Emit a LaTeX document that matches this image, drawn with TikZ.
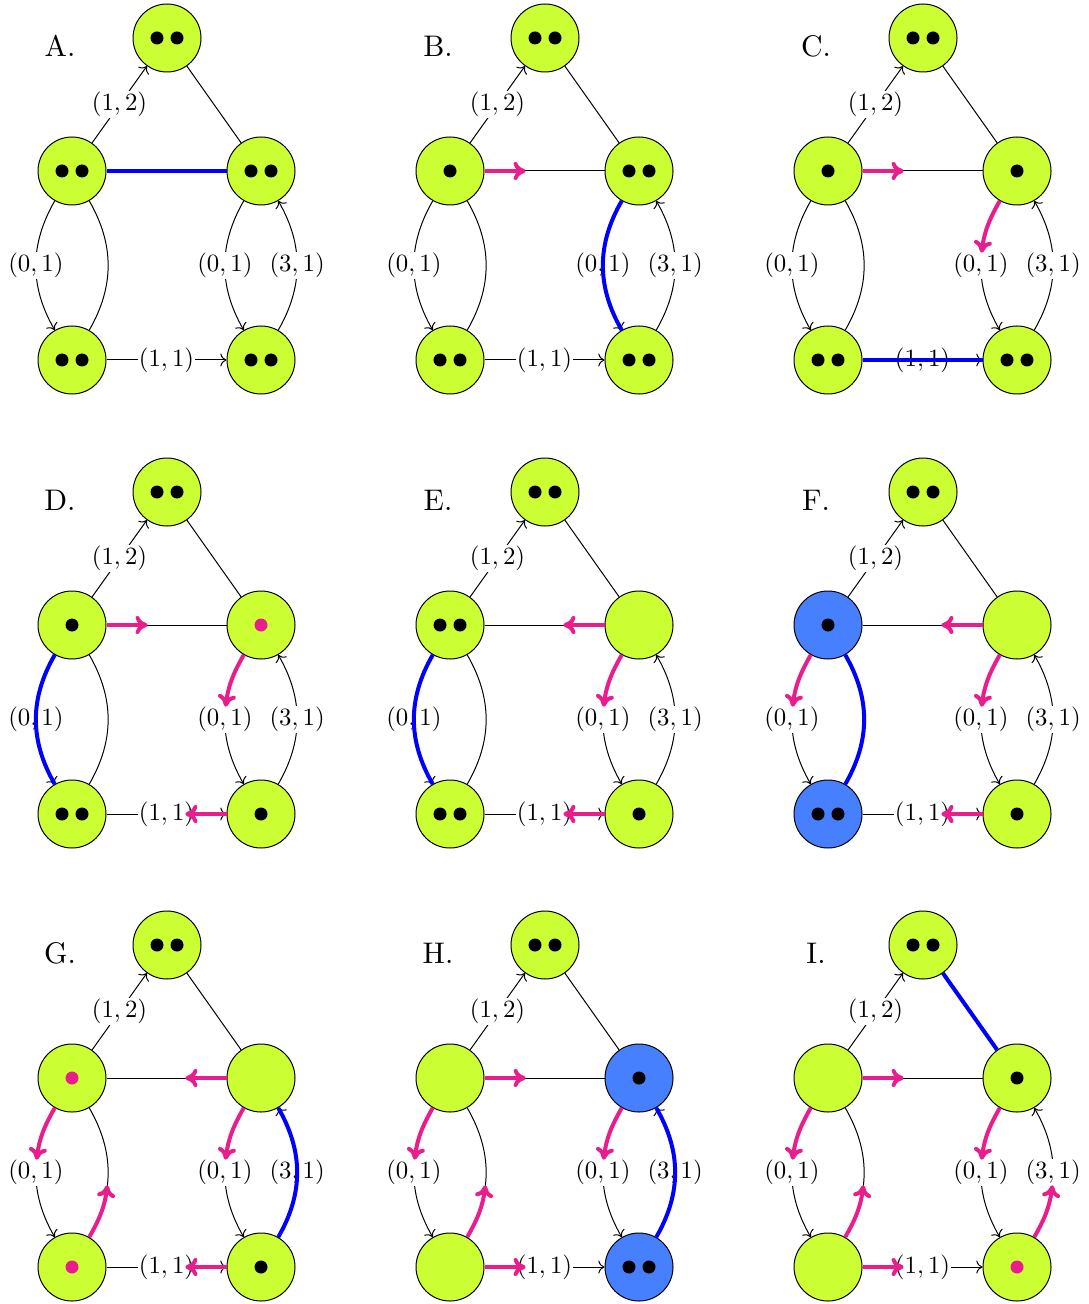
\documentclass[tikz,border=0pt]{standalone}
\usetikzlibrary{arrows.meta,calc}
\definecolor{limec}{RGB}{204,255,51}
\definecolor{hlblue}{RGB}{70,128,255}
\definecolor{pinkc}{RGB}{233,30,140}
\tikzset{
  st/.style={circle, draw=black, line width=0.5pt, fill=limec, minimum size=34pt, inner sep=0pt},
  fT/.style={}, fL/.style={}, fR/.style={}, fBL/.style={}, fBR/.style={},
  ed/.style={line width=0.5pt, black, >={To[scale=1.15]}},
  elab/.style={fill=white, inner sep=0.5pt, scale=1.24},
  lab/.style={inner sep=0pt, scale=1.49},
  bl/.style={blue, line width=2pt},
  pk/.style={pinkc, line width=2pt, -{To[length=6pt,width=9pt]}},
}
\newcommand\base[4]{%
  \begin{scope}[shift={(#2,#3)}]
    \node[lab] (#1-lab) at (60,46) {#4.};
    \node[st,fT] (#1-T) at (167,38) {};
    \node[st,fL] (#1-L) at (72,171) {};
    \node[st,fR] (#1-R) at (261,171) {};
    \node[st,fBL] (#1-BL) at (72,360) {};
    \node[st,fBR] (#1-BR) at (261,360) {};
  \end{scope}
  \draw[ed,->] (#1-L) -- node[elab]{$(1,2)$} (#1-T);
  \draw[ed] (#1-T) -- (#1-R);
  \draw[ed] (#1-L) -- (#1-R);
  \draw[ed,->] (#1-L) to[bend right] node[elab]{$(0,1)$} (#1-BL);
  \draw[ed] (#1-BL) to[bend right] (#1-L);
  \draw[ed,->] (#1-BL) -- node[elab]{$(1,1)$} (#1-BR);
  \draw[ed,->] (#1-R) to[bend right] node[elab]{$(0,1)$} (#1-BR);
  \draw[ed,->] (#1-BR) to[bend right] node[elab]{$(3,1)$} (#1-R);
}
\newcommand\dd[1]{\fill[black] ($(#1)+(-10,0)$) circle[radius=6.5] ($(#1)+(10,0)$) circle[radius=6.5];}
\newcommand\od[2][black]{\fill[#1] (#2) circle[radius=6.5];}
\newcommand\pinks[2]{\draw[pk] (#1) -- ($(#1.center)!0.4!(#2.center)$);}
\newcommand\pinkc[2]{\path (#1) to[bend right] coordinate[pos=0] (pa) coordinate[pos=0.02] (pb)
    coordinate[pos=0.38] (mb) coordinate[pos=0.4] (m) (#2);
  \draw[pk] let \p1=($(pb)-(pa)$), \p2=($(mb)-(m)$), \n1={atan2(\y1,\x1)}, \n2={atan2(\y2,\x2)}
    in (pa) to[out=\n1, in=\n2] (m);}
\begin{document}
\begin{tikzpicture}[x=0.5pt,y=-0.5pt]
\useasboundingbox (0,0) rectangle (1088,1304);
% A
\base{A}{0}{0}{A}
\draw[bl] (A-L) -- (A-R);
\dd{A-T}\dd{A-L}\dd{A-R}\dd{A-BL}\dd{A-BR}
% B
\base{B}{378}{0}{B}
\draw[bl] (B-R) to[bend right] (B-BR);
\pinks{B-L}{B-R}
\dd{B-T}\od{B-L}\dd{B-R}\dd{B-BL}\dd{B-BR}
% C
\base{C}{756}{0}{C}
\draw[bl] (C-BL) -- (C-BR);
\pinks{C-L}{C-R}
\pinkc{C-R}{C-BR}
\dd{C-T}\od{C-L}\od{C-R}\dd{C-BL}\dd{C-BR}
% D
\base{D}{0}{454}{D}
\draw[bl] (D-L) to[bend right] (D-BL);
\pinks{D-L}{D-R}
\pinkc{D-R}{D-BR}
\pinks{D-BR}{D-BL}
\dd{D-T}\od{D-L}\od[pinkc]{D-R}\dd{D-BL}\od{D-BR}
% E
\base{E}{378}{454}{E}
\draw[bl] (E-L) to[bend right] (E-BL);
\pinks{E-R}{E-L}
\pinkc{E-R}{E-BR}
\pinks{E-BR}{E-BL}
\dd{E-T}\dd{E-L}\dd{E-BL}\od{E-BR}
% F
\begin{scope}[fL/.style={fill=hlblue}, fBL/.style={fill=hlblue}]
\base{F}{756}{454}{F}
\end{scope}
\draw[bl] (F-BL) to[bend right] (F-L);
\pinks{F-R}{F-L}
\pinkc{F-L}{F-BL}
\pinkc{F-R}{F-BR}
\pinks{F-BR}{F-BL}
\dd{F-T}\od{F-L}\dd{F-BL}\od{F-BR}
% G
\base{G}{0}{907}{G}
\draw[bl] (G-BR) to[bend right] (G-R);
\pinks{G-R}{G-L}
\pinkc{G-L}{G-BL}
\pinkc{G-BL}{G-L}
\pinkc{G-R}{G-BR}
\pinks{G-BR}{G-BL}
\dd{G-T}\od[pinkc]{G-L}\od[pinkc]{G-BL}\od{G-BR}
% H
\begin{scope}[fR/.style={fill=hlblue}, fBR/.style={fill=hlblue}]
\base{H}{378}{907}{H}
\end{scope}
\draw[bl] (H-BR) to[bend right] (H-R);
\pinks{H-L}{H-R}
\pinkc{H-L}{H-BL}
\pinkc{H-BL}{H-L}
\pinkc{H-R}{H-BR}
\pinks{H-BL}{H-BR}
\dd{H-T}\od{H-R}\dd{H-BR}
% I
\base{I}{756}{907}{I}
\draw[bl] (I-T) -- (I-R);
\pinks{I-L}{I-R}
\pinkc{I-L}{I-BL}
\pinkc{I-BL}{I-L}
\pinkc{I-R}{I-BR}
\pinks{I-BL}{I-BR}
\pinkc{I-BR}{I-R}
\dd{I-T}\od{I-R}\od[pinkc]{I-BR}
\end{tikzpicture}
\end{document}
